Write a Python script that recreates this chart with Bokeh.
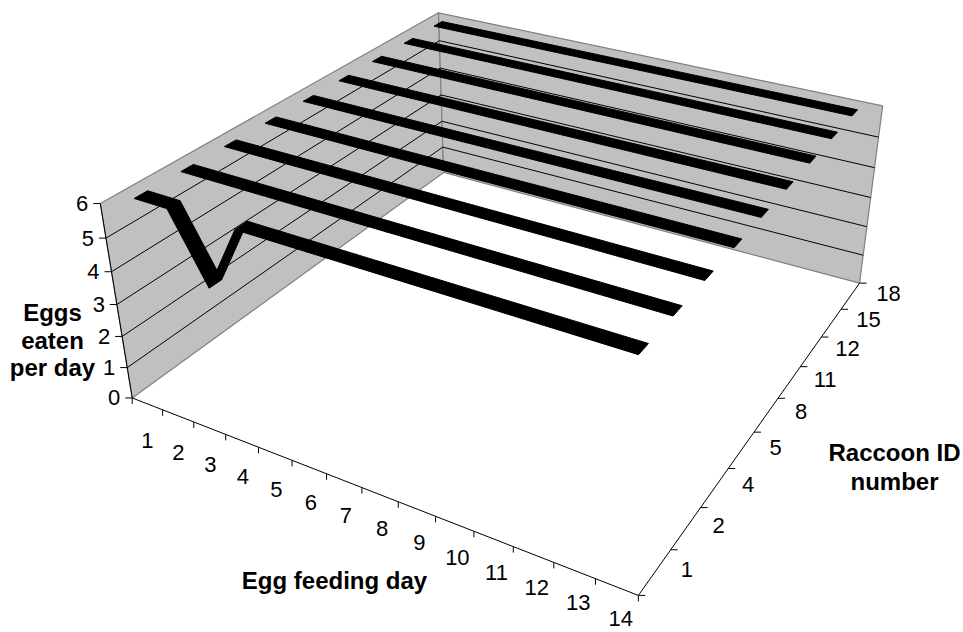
import numpy as np
from bokeh.plotting import figure
from bokeh.models import Range1d
from bokeh.core.properties import value
from bokeh.embed import file_html
from bokeh.resources import INLINE

# ---- data -------------------------------------------------------------
days = ["1", "2", "3", "4", "5", "6", "7", "8", "9", "10", "11", "12", "13", "14"]
raccoon_ids = ["1", "2", "4", "5", "8", "11", "12", "15", "18"]
value_ticks = [0, 1, 2, 3, 4, 5, 6]

eggs_r1 = [6, 6, 4, 6, 6, 6, 6, 6, 6, 6, 6, 6, 6, 6]
eggs_r2 = [6, 6, 6, 6, 6, 6, 6, 6, 6, 6, 6, 6, 6, 6]
eggs_r4 = [6, 6, 6, 6, 6, 6, 6, 6, 6, 6, 6, 6, 6, 6]
eggs_r5 = [6, 6, 6, 6, 6, 6, 6, 6, 6, 6, 6, 6, 6, 6]
eggs_r8 = [6, 6, 6, 6, 6, 6, 6, 6, 6, 6, 6, 6, 6, 6]
eggs_r11 = [6, 6, 6, 6, 6, 6, 6, 6, 6, 6, 6, 6, 6, 6]
eggs_r12 = [6, 6, 6, 6, 6, 6, 6, 6, 6, 6, 6, 6, 6, 6]
eggs_r15 = [6, 6, 6, 6, 6, 6, 6, 6, 6, 6, 6, 6, 6, 6]
eggs_r18 = [6, 6, 6, 6, 6, 6, 6, 6, 6, 6, 6, 6, 6, 6]
series = [eggs_r1, eggs_r2, eggs_r4, eggs_r5, eggs_r8,
          eggs_r11, eggs_r12, eggs_r15, eggs_r18]

NX, NY, NZ = len(days), len(raccoon_ids), value_ticks[-1]

# ---- camera: perspective projection of (day, series, value) to pixels --
CAM = np.array([
    [28.4541, 49.7116, -6.55184, 131.72],
    [6.92294, -19.1965, -34.9204, 397.463],
    [-0.0120701, 0.0340951, -0.0123902, 1.0],
])


def proj(x, y, z):
    x, y, z = np.broadcast_arrays(np.asarray(x, float), np.asarray(y, float),
                                  np.asarray(z, float))
    h = CAM @ np.vstack([x.ravel(), y.ravel(), z.ravel(), np.ones(x.size)])
    return list(h[0] / h[2]), list(h[1] / h[2])


# ---- figure -----------------------------------------------------------
p = figure(width=963, height=632, x_range=Range1d(0, 963), y_range=Range1d(632, 0),
           output_backend="svg", toolbar_location=None, min_border=0)
p.axis.visible = False
p.grid.visible = False
p.outline_line_color = None
p.background_fill_color = "white"
p.border_fill_color = "white"

WALL = "#C0C0C0"
EDGE = "#808080"
FONT = value("Liberation Sans")

# side wall and back wall
walls = [([0, 0, 0, 0], [0, NY, NY, 0], [0, 0, NZ, NZ]),
         ([0, NX, NX, 0], [NY, NY, NY, NY], [0, 0, NZ, NZ])]
wx, wy = [], []
for X, Y, Z in walls:
    a, b = proj(X, Y, Z)
    wx.append(a); wy.append(b)
p.patches(wx, wy, fill_color=WALL, line_color=EDGE, line_width=1.2)

# value gridlines across both walls
gx, gy = [], []
for k in value_ticks[1:-1]:
    a, b = proj([0, 0, NX], [0, NY, NY], [k, k, k])
    gx.append(a); gy.append(b)
p.multi_line(gx, gy, line_color="black", line_width=1)

# one flat ribbon per raccoon, drawn back to front
HALF = 0.14
for j in range(NY - 1, -1, -1):
    vals = series[j]
    yc = j + 0.5
    xs, ys = [], []
    for i in range(NX - 1):
        X = [i + 0.5, i + 1.5, i + 1.5, i + 0.5]
        Y = [yc - HALF, yc - HALF, yc + HALF, yc + HALF]
        Z = [vals[i], vals[i + 1], vals[i + 1], vals[i]]
        a, b = proj(X, Y, Z)
        xs.append(a); ys.append(b)
    p.patches(xs, ys, fill_color="black", line_color="black", line_width=1)

# axis lines
ax_lines = [([0, NX], [0, 0], [0, 0]), ([NX, NX], [0, NY], [0, 0]),
            ([0, 0], [0, 0], [0, NZ])]
lx, ly = [], []
for X, Y, Z in ax_lines:
    a, b = proj(X, Y, Z)
    lx.append(a); ly.append(b)
p.multi_line(lx, ly, line_color="black", line_width=1)

# tick marks
tx, ty = [], []
a, b = proj(np.arange(NX + 1), 0, 0)
for u, v in zip(a, b):
    tx.append([u, u]); ty.append([v, v + 6])
a, b = proj(NX, np.arange(NY + 1), 0)
for u, v in zip(a, b):
    tx.append([u, u + 7]); ty.append([v, v])
a, b = proj(0, 0, np.array(value_ticks))
for u, v in zip(a, b):
    tx.append([u - 7, u]); ty.append([v, v])
p.multi_line(tx, ty, line_color="black", line_width=1)

# tick labels
a, b = proj(0, 0, np.array(value_ticks))
p.text(x=[u - 12 for u in a], y=b, text=[str(t) for t in value_ticks],
       text_font=FONT, text_font_size="22px", text_align="right",
       text_baseline="middle", text_color="black")

a, b = proj(np.arange(NX) + 0.5, 0, 0)
frac = np.linspace(0, 1, NX)
p.text(x=[u + 4 * f for u, f in zip(a, frac)],
       y=[v + 37 - 5 * f for v, f in zip(b, frac)], text=days,
       text_font=FONT, text_font_size="22px", text_align="center",
       text_baseline="middle", text_color="black")

a, b = proj(NX, np.arange(NY) + 0.5, 0)
frac = np.linspace(0, 1, NY)
p.text(x=[u + 32 + 6 * f for u, f in zip(a, frac)], y=[v - 3 for v in b],
       text=raccoon_ids, text_font=FONT, text_font_size="22px",
       text_align="center", text_baseline="middle", text_color="black")

# axis titles
p.text(x=[52, 52, 52], y=[312, 340, 367], text=["Eggs", "eaten", "per day"],
       text_font=FONT, text_font_size="24px", text_font_style="bold",
       text_align="center", text_baseline="middle", text_color="black")
p.text(x=[334], y=[580], text=["Egg feeding day"], text_font=FONT,
       text_font_size="24px", text_font_style="bold", text_align="center",
       text_baseline="middle", text_color="black")
p.text(x=[894, 894], y=[452, 481], text=["Raccoon ID", "number"], text_font=FONT,
       text_font_size="24px", text_font_style="bold", text_align="center",
       text_baseline="middle", text_color="black")

open("out.html", "w").write(file_html(p, INLINE))
